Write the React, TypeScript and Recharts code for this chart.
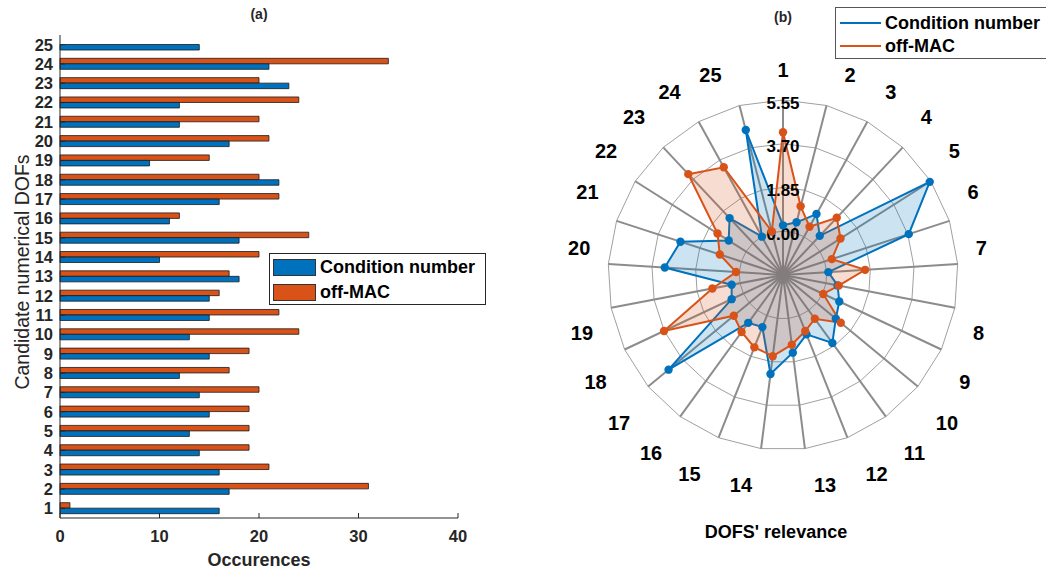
import React from "react";
import {
  Bar,
  BarChart,
  PolarAngleAxis,
  PolarGrid,
  PolarRadiusAxis,
  Radar,
  RadarChart,
  XAxis,
  YAxis,
} from "recharts";

// Candidate DOF ids (1..25) shared by both panels.
const dofs = [
  "1", "2", "3", "4", "5", "6", "7", "8", "9", "10", "11", "12", "13",
  "14", "15", "16", "17", "18", "19", "20", "21", "22", "23", "24", "25",
];

// (a) occurrences per DOF
const condOccurrences = [
  16, 17, 16, 14, 13, 15, 14, 12, 15, 13, 15, 15, 18, 10, 18, 11, 16, 22, 9,
  17, 12, 12, 23, 21, 14,
];
const offMacOccurrences = [
  1, 31, 21, 19, 19, 19, 20, 17, 19, 24, 22, 16, 17, 20, 25, 12, 22, 20, 15,
  21, 20, 24, 20, 33, 0,
];
const occurrenceTicks = [0, 10, 20, 30, 40];

// (b) relevance per DOF
const condRelevance = [
  0.25, 0.45, 1.09, 0.42, 5.5, 3.74, 0.07, 0.5, 0.78, 1.05, 1.7, 0.85, 1.46,
  2.37, 0.52, 0.65, 4.43, 0.55, 0.36, 3.16, 2.71, 0.87, 1.45, 0.0, 4.48,
];
const offMacRelevance = [
  4.19, 1.15, 0.48, 1.47, 1.03, 0.32, 1.63, 0.55, 0.03, 1.32, 0.44, 0.7, 1.12,
  1.61, 1.44, 1.13, 0.85, 3.71, 1.19, 0.14, 0.96, 1.43, 4.0, 3.35, 0.05,
];
const relevanceTicks = [-1.85, 0, 1.85, 3.7, 5.55];

const BLUE = "#0072BD";
const ORANGE = "#D95319";
const AXIS = "#262626";
const FONT = '"Liberation Sans", Arial, Helvetica, sans-serif';

// radar geometry (inside the right panel, which starts at x = 520)
const PANEL_X = 520;
const CX = 783 - PANEL_X;
const CY = 275;
const OUTER = 175;

const barRows = dofs.map((dof, i) => ({
  dof,
  cond: condOccurrences[i],
  offMac: offMacOccurrences[i],
}));

const radarRows = dofs.map((dof, i) => ({
  dof,
  cond: condRelevance[i],
  offMac: offMacRelevance[i],
}));

const blankTick = () => <g />;

// spider-plot style labels: pushed out from the outer ring's vertex, left
// aligned on the right half, right aligned on the left half
function AngleTick(props: any) {
  const angle = props.payload.coordinate;
  const rad = (-angle * Math.PI) / 180;
  const c = Math.cos(rad); // horizontal component
  const up = -Math.sin(rad); // vertical component, + is up
  const px = CX + OUTER * c;
  const py = CY - OUTER * up;
  let anchor: "start" | "end" | "middle" = "middle";
  let x = px;
  const dx = Math.min(18, 72 * Math.abs(c));
  if (c > 0.01) {
    anchor = "start";
    x = px + dx;
  } else if (c < -0.01) {
    anchor = "end";
    x = px - dx;
  }
  const y =
    up >= 0
      ? py - Math.min(30, 13 + 52 * up)
      : py + Math.min(36, 20 + 30 * -up);
  return (
    <text
      x={x}
      y={y}
      textAnchor={anchor}
      dominantBaseline="central"
      fontSize={20}
      fontWeight={700}
      fill="#000"
      fontFamily={FONT}
    >
      {props.payload.value}
    </text>
  );
}

function RadiusTick(props: any) {
  const v = props.payload.value;
  if (v < 0) return <g />;
  const r = props.payload.coordinate;
  return (
    <text
      x={CX}
      y={CY - r + 3}
      textAnchor="middle"
      dominantBaseline="central"
      fontSize={17}
      fontWeight={700}
      fill="#000"
      fontFamily={FONT}
    >
      {v.toFixed(2)}
    </text>
  );
}

const makeDot = (color: string) => (p: any) => (
  <circle key={p.index} cx={p.cx} cy={p.cy} r={4.2} fill={color} stroke="none" />
);

const abs = (style: React.CSSProperties): React.CSSProperties => ({
  position: "absolute",
  fontFamily: FONT,
  color: AXIS,
  whiteSpace: "nowrap",
  ...style,
});

export default function App() {
  return (
    <div
      style={{
        position: "absolute",
        left: 0,
        top: 0,
        width: 1046,
        height: 571,
        background: "#fff",
        overflow: "hidden",
        fontFamily: FONT,
      }}
    >
      {/* (b) spider plot, under the (a) legend which overhangs a little */}
      <div style={{ position: "absolute", left: PANEL_X, top: 0 }}>
        <RadarChart
          width={1046 - PANEL_X}
          height={571}
          data={radarRows}
          cx={CX}
          cy={CY}
          outerRadius={OUTER}
          startAngle={90}
          endAngle={-270}
          margin={{ top: 0, right: 0, bottom: 0, left: 0 }}
        >
          <PolarGrid gridType="polygon" radialLines={false} stroke="#a0a0a0" strokeWidth={1} />
          <PolarGrid gridType="polygon" polarRadius={[]} stroke="#8c8c8c" strokeWidth={2} />
          <PolarAngleAxis dataKey="dof" tick={AngleTick} tickLine={false} axisLine={false} />
          <Radar
            dataKey="cond"
            stroke={BLUE}
            strokeWidth={2}
            fill={BLUE}
            fillOpacity={0.2}
            dot={makeDot(BLUE)}
            isAnimationActive={false}
          />
          <Radar
            dataKey="offMac"
            stroke={ORANGE}
            strokeWidth={2}
            fill={ORANGE}
            fillOpacity={0.2}
            dot={makeDot(ORANGE)}
            isAnimationActive={false}
          />
          <PolarRadiusAxis
            angle={90}
            type="number"
            domain={[-1.85, 5.55]}
            allowDataOverflow
            tickCount={0}
            ticks={relevanceTicks}
            axisLine={false}
            tickLine={false}
            tick={RadiusTick}
          />
        </RadarChart>
      </div>

      {/* (a) grouped horizontal bars */}
      <div style={{ position: "absolute", left: 0, top: 0 }}>
        <BarChart
          width={500}
          height={571}
          data={barRows}
          layout="vertical"
          margin={{ top: 35, right: 42, bottom: 0, left: 0 }}
          barGap={0}
          barSize={5.5}
        >
          <XAxis
            xAxisId="b"
            type="number"
            domain={[0, 40]}
            ticks={occurrenceTicks}
            orientation="bottom"
            height={53}
            tickSize={-5}
            tickMargin={17}
            stroke={AXIS}
            tick={{ fontSize: 16.5, fontWeight: 700, fill: AXIS, fontFamily: FONT }}
          />
          <XAxis
            xAxisId="t"
            type="number"
            domain={[0, 40]}
            ticks={occurrenceTicks}
            orientation="top"
            height={0}
            tickSize={-5}
            stroke={AXIS}
            tick={blankTick}
          />
          <YAxis
            yAxisId="l"
            type="category"
            dataKey="dof"
            reversed
            width={60}
            tickSize={-5}
            tickMargin={12}
            interval={0}
            stroke={AXIS}
            tick={{ fontSize: 16.5, fontWeight: 700, fill: AXIS, fontFamily: FONT }}
          />
          <YAxis
            yAxisId="r"
            type="category"
            dataKey="dof"
            reversed
            orientation="right"
            width={0}
            tickSize={-5}
            interval={0}
            stroke={AXIS}
            tick={blankTick}
          />
          <Bar
            xAxisId="b"
            yAxisId="l"
            dataKey="offMac"
            fill={ORANGE}
            stroke="#1a1a1a"
            strokeWidth={0.8}
            isAnimationActive={false}
          />
          <Bar
            xAxisId="b"
            yAxisId="l"
            dataKey="cond"
            fill={BLUE}
            stroke="#1a1a1a"
            strokeWidth={0.8}
            isAnimationActive={false}
          />
        </BarChart>
      </div>

      <div style={abs({ left: 259, top: 6, transform: "translateX(-50%)", fontSize: 14, fontWeight: 700 })}>
        (a)
      </div>
      <div style={abs({ left: 259, top: 549, transform: "translateX(-50%)", fontSize: 18, fontWeight: 700, lineHeight: "22px" })}>
        Occurences
      </div>
      <div
        style={abs({
          left: 22,
          top: 272,
          transform: "translate(-50%, -50%) rotate(-90deg)",
          fontSize: 19.5,
          lineHeight: "22px",
        })}
      >
        Candidate numerical DOFs
      </div>

      {/* legend (a) */}
      <div
        style={abs({
          left: 269,
          top: 253,
          width: 217,
          height: 52,
          border: `1px solid ${AXIS}`,
          background: "#fff",
          boxSizing: "border-box",
        })}
      >
        {[
          { c: BLUE, t: "Condition number" },
          { c: ORANGE, t: "off-MAC" },
        ].map((it, i) => (
          <div
            key={it.t}
            style={{ position: "absolute", left: 3, top: 4 + i * 25, display: "flex", alignItems: "center" }}
          >
            <div
              style={{
                width: 43,
                height: 17,
                background: it.c,
                border: "1px solid #333",
                boxSizing: "border-box",
              }}
            />
            <span style={{ marginLeft: 4, fontSize: 18, fontWeight: 700, color: "#000", lineHeight: "18px" }}>
              {it.t}
            </span>
          </div>
        ))}
      </div>

      <div style={abs({ left: 783, top: 9, transform: "translateX(-50%)", fontSize: 14, fontWeight: 700 })}>
        (b)
      </div>
      <div style={abs({ left: 776, top: 521, transform: "translateX(-50%)", fontSize: 18, fontWeight: 700, color: "#000", lineHeight: "22px" })}>
        DOFS' relevance
      </div>

      {/* legend (b) */}
      <div
        style={abs({
          left: 835,
          top: 7,
          width: 220,
          height: 52,
          border: "1px solid #555",
          background: "#fff",
          boxSizing: "border-box",
        })}
      >
        {[
          { c: BLUE, t: "Condition number" },
          { c: ORANGE, t: "off-MAC" },
        ].map((it, i) => (
          <div
            key={it.t}
            style={{ position: "absolute", left: 4, top: 5 + i * 23, display: "flex", alignItems: "center" }}
          >
            <div style={{ width: 41, height: 2, background: it.c }} />
            <span style={{ marginLeft: 4, fontSize: 18, fontWeight: 700, color: "#000", lineHeight: "20px" }}>
              {it.t}
            </span>
          </div>
        ))}
      </div>
    </div>
  );
}
